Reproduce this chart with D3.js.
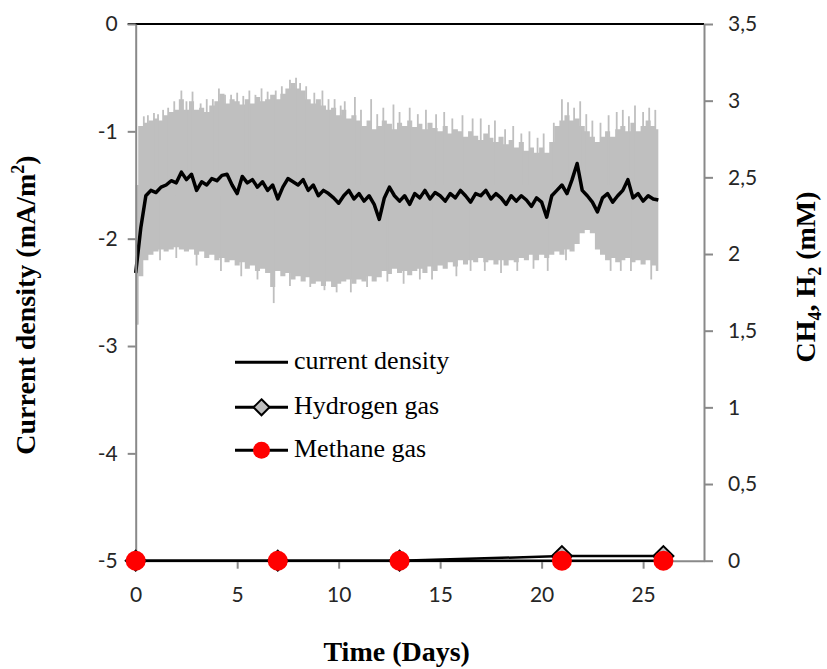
<!DOCTYPE html>
<html>
<head>
<meta charset="utf-8">
<script src="https://cdn.jsdelivr.net/npm/d3@7"></script>
<style>
  html, body { margin: 0; padding: 0; background: #ffffff; }
  svg { display: block; }
</style>
</head>
<body>
<svg id="chart" width="827" height="669"></svg>
<script>
// ---------------- DATA ----------------
// Gas sampling days and concentrations (mM, right axis)
const gasDays = [0, 7, 13, 21, 26];
const hydrogenGas = [0, 0, 0, 0.03, 0.03];
const methaneGas = [0, 0, 0, 0, 0];

// Current density record (mA/m2, left axis), sampled every 0.25 day
const sampleStep = 0.25;
const currentMean = [
  -2.32, -1.90, -1.60, -1.55,
  -1.57, -1.52, -1.50, -1.46,
  -1.48, -1.38, -1.45, -1.40,
  -1.55, -1.47, -1.50, -1.44,
  -1.46, -1.41, -1.40, -1.50,
  -1.58, -1.42, -1.48, -1.45,
  -1.52, -1.47, -1.55, -1.50,
  -1.63, -1.52, -1.44, -1.47,
  -1.50, -1.45, -1.55, -1.50,
  -1.60, -1.55, -1.58, -1.62,
  -1.67, -1.60, -1.55, -1.63,
  -1.58, -1.65, -1.60, -1.68,
  -1.82, -1.62, -1.52, -1.60,
  -1.65, -1.60, -1.68, -1.58,
  -1.62, -1.55, -1.63, -1.57,
  -1.60, -1.65, -1.58, -1.62,
  -1.55, -1.60, -1.66, -1.58,
  -1.60, -1.55, -1.63, -1.58,
  -1.62, -1.68, -1.60, -1.65,
  -1.60, -1.64, -1.70, -1.62,
  -1.66, -1.80, -1.60, -1.55,
  -1.50, -1.58, -1.45, -1.30,
  -1.55, -1.60, -1.66, -1.75,
  -1.62, -1.58, -1.66, -1.60,
  -1.55, -1.45, -1.62, -1.58,
  -1.65, -1.60, -1.63, -1.64
];
const currentUpper = [
  -1.50, -0.95, -0.92, -0.90,
  -0.88, -0.90, -0.85, -0.82,
  -0.80, -0.70, -0.80, -0.72,
  -0.80, -0.78, -0.82, -0.76,
  -0.72, -0.65, -0.74, -0.70,
  -0.72, -0.75, -0.70, -0.74,
  -0.68, -0.72, -0.70, -0.66,
  -0.70, -0.65, -0.60, -0.55,
  -0.60, -0.62, -0.70, -0.74,
  -0.70, -0.76, -0.80, -0.78,
  -0.85, -0.80, -0.88, -0.85,
  -0.90, -0.95, -0.90, -0.98,
  -0.95, -0.90, -0.93, -0.98,
  -0.92, -0.95, -0.90, -0.96,
  -0.93, -0.98, -0.92, -0.97,
  -1.00, -0.95, -1.02, -0.98,
  -1.00, -1.05, -1.00, -1.04,
  -1.08, -1.02, -1.06, -1.10,
  -1.05, -1.12, -1.08, -1.15,
  -1.10, -1.18, -1.15, -1.20,
  -1.15, -1.20, -1.10, -0.95,
  -0.90, -0.85, -0.90, -0.88,
  -0.95, -1.00, -1.05, -1.10,
  -1.05, -1.00, -1.05, -0.98,
  -0.95, -1.00, -0.92, -1.00,
  -0.95, -0.90, -0.95, -0.98
];
const currentLower = [
  -2.80, -2.35, -2.20, -2.15,
  -2.12, -2.10, -2.12, -2.10,
  -2.08, -2.10, -2.12, -2.10,
  -2.15, -2.12, -2.18, -2.15,
  -2.20, -2.18, -2.22, -2.20,
  -2.25, -2.22, -2.28, -2.25,
  -2.30, -2.28, -2.32, -2.45,
  -2.30, -2.35, -2.32, -2.38,
  -2.35, -2.40, -2.36, -2.42,
  -2.40, -2.44, -2.40, -2.45,
  -2.42, -2.40, -2.38, -2.42,
  -2.38, -2.40, -2.35, -2.40,
  -2.36, -2.30, -2.33, -2.28,
  -2.32, -2.30, -2.34, -2.30,
  -2.28, -2.32, -2.26, -2.30,
  -2.25, -2.28, -2.22, -2.26,
  -2.20, -2.24, -2.20, -2.22,
  -2.18, -2.22, -2.20, -2.24,
  -2.20, -2.25, -2.20, -2.22,
  -2.18, -2.20, -2.15, -2.20,
  -2.15, -2.18, -2.15, -2.12,
  -2.15, -2.10, -2.12, -2.05,
  -1.95, -1.92, -1.95, -2.10,
  -2.15, -2.20, -2.18, -2.22,
  -2.20, -2.18, -2.22, -2.20,
  -2.24, -2.20, -2.25, -2.30
];
// Isolated noise spikes of the raw record [day, value]
const upperSpikes = [
  [0.4, -0.86], [0.6, -0.85], [0.9, -0.83], [1.1, -0.84], [1.35, -0.80], [1.6, -0.78],
  [1.9, -0.72], [2.25, -0.62], [2.5, -0.72], [2.8, -0.63], [3.2, -0.74], [3.5, -0.70],
  [3.8, -0.70], [4.1, -0.60], [4.4, -0.66], [4.7, -0.66], [5.0, -0.64], [5.3, -0.67],
  [5.6, -0.62], [5.9, -0.66], [6.2, -0.60], [6.5, -0.63], [6.9, -0.62], [7.2, -0.58],
  [7.6, -0.52], [7.9, -0.50], [8.1, -0.55], [8.4, -0.58], [8.8, -0.64], [9.2, -0.62],
  [9.5, -0.70], [9.8, -0.70], [10.1, -0.76], [10.3, -0.72], [10.8, -0.68], [11.1, -0.80],
  [11.6, -0.70], [11.9, -0.84], [12.2, -0.78], [12.7, -0.75], [13.0, -0.82], [13.5, -0.78],
  [13.9, -0.84], [14.3, -0.80], [14.8, -0.84], [15.2, -0.82], [15.6, -0.88], [16.1, -0.85],
  [16.6, -0.88], [17.0, -0.88], [17.4, -0.94], [17.7, -0.90], [18.2, -0.98], [18.6, -0.95],
  [19.0, -1.02], [19.4, -1.00], [19.8, -1.06], [20.1, -1.02], [20.6, -0.92],
  [21.0, -0.70], [21.3, -0.73], [21.6, -0.78], [21.9, -0.72], [22.2, -0.84], [22.5, -0.90],
  [22.9, -0.92], [23.3, -0.85], [23.7, -0.82], [24.0, -0.80], [24.3, -0.86], [24.6, -0.76],
  [25.0, -0.82], [25.3, -0.78], [25.6, -0.80]
];
const lowerSpikes = [
  [0.1, -2.80], [1.2, -2.20], [2.0, -2.18], [3.0, -2.25], [4.2, -2.30], [5.2, -2.35],
  [6.0, -2.38], [6.8, -2.60], [7.6, -2.44], [8.6, -2.45], [9.3, -2.48], [9.9, -2.50],
  [10.6, -2.50], [11.4, -2.45], [12.4, -2.40], [13.2, -2.42], [14.0, -2.38], [14.6, -2.38],
  [15.8, -2.35], [16.5, -2.30], [17.2, -2.30], [18.0, -2.32], [18.8, -2.30], [19.6, -2.28],
  [20.3, -2.30], [21.2, -2.20], [23.4, -2.30], [23.9, -2.30], [24.4, -2.30], [25.4, -2.38]
];

// Axis ticks
const xTickValues = [0, 5, 10, 15, 20, 25];
const leftTickValues = [0, -1, -2, -3, -4, -5];
const leftTickLabels = ["0", "-1", "-2", "-3", "-4", "-5"];
const rightTickValues = [0, 0.5, 1, 1.5, 2, 2.5, 3, 3.5];
const rightTickLabels = ["0", "0,5", "1", "1,5", "2", "2,5", "3", "3,5"];

// Legend entries
const legendLabels = ["current density", "Hydrogen gas", "Methane gas"];

// ---------------- CHART ----------------
const svg = d3.select("#chart");
const plot = { left: 135.7, right: 704, top: 24, bottom: 560.7 };

const x = d3.scaleLinear().domain([0, 28]).range([plot.left, plot.right]);
const yL = d3.scaleLinear().domain([-5, 0]).range([plot.bottom, plot.top]);
const yR = d3.scaleLinear().domain([0, 3.5]).range([plot.bottom, plot.top]);

const axisGray = "#898989";
const bandGray = "#bfbfbf";
const labelFont = "Lato, 'Open Sans', sans-serif";
const serif = "'Liberation Serif', 'Times New Roman', serif";

const samples = currentMean.map((v, i) => ({
  day: i * sampleStep, mean: v, hi: currentUpper[i], lo: currentLower[i]
}));

// Raw current band
svg.append("path")
  .datum(samples)
  .attr("fill", bandGray)
  .attr("d", d3.area()
    .x(d => x(d.day))
    .y0(d => yL(d.lo))
    .y1(d => yL(d.hi))
    .curve(d3.curveStep));

svg.append("g").selectAll("line.us")
  .data(upperSpikes).join("line")
  .attr("x1", d => x(d[0])).attr("x2", d => x(d[0]))
  .attr("y1", yL(-1.5)).attr("y2", d => yL(d[1]))
  .attr("stroke", bandGray).attr("stroke-width", 1.8);

svg.append("g").selectAll("line.ls")
  .data(lowerSpikes).join("line")
  .attr("x1", d => x(d[0])).attr("x2", d => x(d[0]))
  .attr("y1", yL(-1.6)).attr("y2", d => yL(d[1]))
  .attr("stroke", bandGray).attr("stroke-width", 1.8);

// Averaged current line
svg.append("path")
  .datum(samples)
  .attr("fill", "none")
  .attr("stroke", "#000")
  .attr("stroke-width", 3.5)
  .attr("stroke-linejoin", "round")
  .attr("d", d3.line().x(d => x(d.day)).y(d => yL(d.mean)));

// Axes
// top line (primary horizontal axis crossing at 0)
svg.append("line")
  .attr("x1", plot.left - 8).attr("x2", plot.right)
  .attr("y1", yL(0)).attr("y2", yL(0))
  .attr("stroke", "#000").attr("stroke-width", 2);

// bottom axis
const xAxis = svg.append("g").attr("transform", `translate(0,${plot.bottom})`)
  .call(d3.axisBottom(x).tickValues(xTickValues).tickSize(8).tickSizeOuter(0).tickPadding(13).tickFormat(d3.format("d")));
// left axis
const yAxisL = svg.append("g").attr("transform", `translate(${plot.left},0)`)
  .call(d3.axisLeft(yL).tickValues(leftTickValues).tickSize(8).tickSizeOuter(0).tickPadding(10)
    .tickFormat((d, i) => leftTickLabels[i]));
// right axis
const yAxisR = svg.append("g").attr("transform", `translate(${plot.right},0)`)
  .call(d3.axisRight(yR).tickValues(rightTickValues).tickSize(9).tickSizeOuter(0).tickPadding(15)
    .tickFormat((d, i) => rightTickLabels[i]));

[xAxis, yAxisL, yAxisR].forEach(g => {
  g.select(".domain").attr("stroke", axisGray).attr("stroke-width", 2);
  g.selectAll(".tick line").attr("stroke", axisGray).attr("stroke-width", 2);
  g.selectAll(".tick text").attr("fill", "#262626")
    .style("font-family", labelFont).style("font-size", "21px");
});
xAxis.selectAll(".tick text").attr("dy", "0.95em");

// Gas lines
const hLine = d3.line().x((d, i) => x(gasDays[i])).y(d => yR(d));
svg.append("path").datum(hydrogenGas)
  .attr("fill", "none").attr("stroke", "#000").attr("stroke-width", 2.5)
  .attr("d", hLine);
svg.append("g").selectAll("path.dia")
  .data(hydrogenGas).join("path")
  .attr("transform", (d, i) => `translate(${x(gasDays[i])},${yR(d)})`)
  .attr("d", "M0,-10L10,0L0,10L-10,0Z")
  .attr("fill", bandGray).attr("stroke", "#000").attr("stroke-width", 2);

svg.append("path").datum(methaneGas)
  .attr("fill", "none").attr("stroke", "#000").attr("stroke-width", 2.5)
  .attr("d", hLine);
svg.append("g").selectAll("circle.m")
  .data(methaneGas).join("circle")
  .attr("cx", (d, i) => x(gasDays[i])).attr("cy", d => yR(d))
  .attr("r", 10).attr("fill", "#ff0000");

// Legend
const legendY = [362.3, 407.3, 450.3];
const leg = svg.append("g");
legendLabels.forEach((lab, i) => {
  const g = leg.append("g");
  g.append("line").attr("x1", 235).attr("x2", 288).attr("y1", legendY[i]).attr("y2", legendY[i])
    .attr("stroke", "#000").attr("stroke-width", 3);
  if (i === 1) {
    g.append("path").attr("transform", `translate(261.5,${legendY[i]})`)
      .attr("d", "M0,-8L8,0L0,8L-8,0Z")
      .attr("fill", bandGray).attr("stroke", "#000").attr("stroke-width", 2);
  }
  if (i === 2) {
    g.append("circle").attr("cx", 261.5).attr("cy", legendY[i]).attr("r", 8.5).attr("fill", "#ff0000");
  }
  g.append("text").attr("x", 294).attr("y", legendY[i] + 7)
    .style("font-family", serif).style("font-size", "26px").attr("fill", "#000")
    .text(lab);
});

// Axis titles
svg.append("text")
  .attr("x", 396.7).attr("y", 661)
  .attr("text-anchor", "middle")
  .style("font-family", serif).style("font-size", "28px").style("font-weight", "bold")
  .text("Time (Days)");

const lt = svg.append("text")
  .attr("transform", "translate(35,305) rotate(-90)")
  .attr("text-anchor", "middle")
  .style("font-family", serif).style("font-size", "28px").style("font-weight", "bold");
lt.append("tspan").text("Current density (mA/m");
lt.append("tspan").attr("dy", -11).style("font-size", "18px").text("2");
lt.append("tspan").attr("dy", 11).text(")");

const rt = svg.append("text")
  .attr("transform", "translate(815,277) rotate(-90)")
  .attr("text-anchor", "middle")
  .style("font-family", serif).style("font-size", "28px").style("font-weight", "bold");
rt.append("tspan").text("CH");
rt.append("tspan").attr("dy", 6).style("font-size", "18px").text("4");
rt.append("tspan").attr("dy", -6).text(", H");
rt.append("tspan").attr("dy", 6).style("font-size", "18px").text("2");
rt.append("tspan").attr("dy", -6).text(" (mM)");
</script>
</body>
</html>
